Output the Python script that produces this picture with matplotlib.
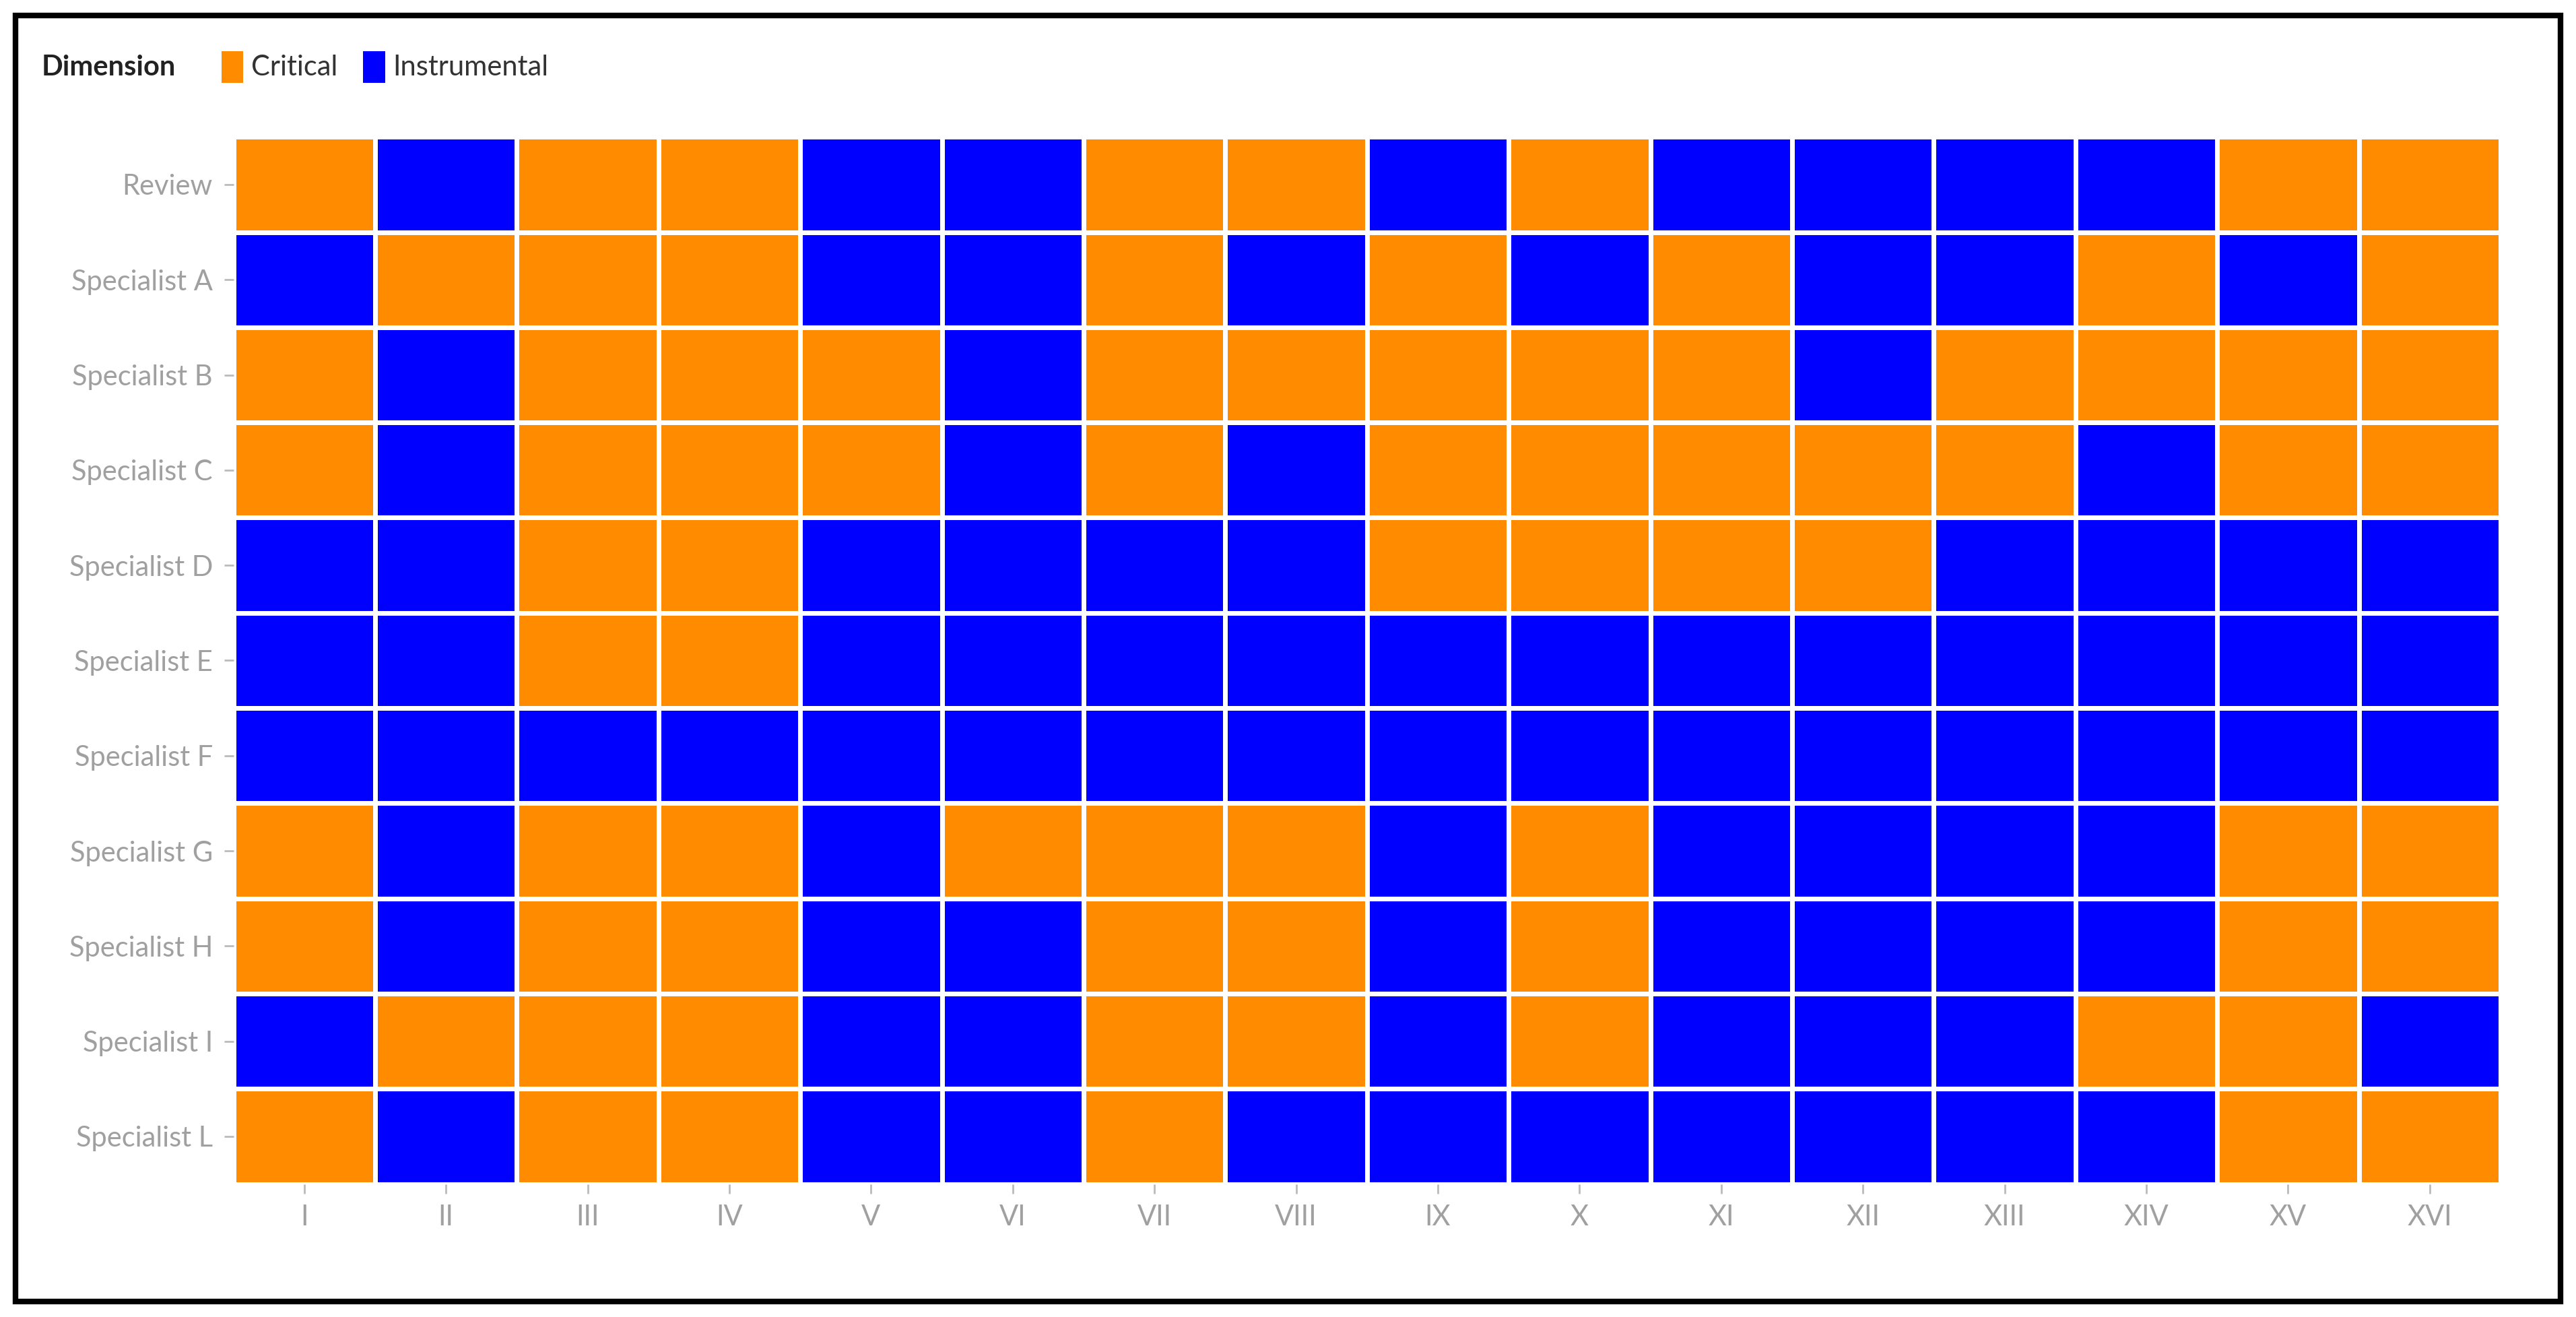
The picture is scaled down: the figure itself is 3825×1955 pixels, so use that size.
import numpy as np
import matplotlib.pyplot as plt
from matplotlib.colors import ListedColormap
from matplotlib.patches import Rectangle

plt.rcParams['font.family'] = ['Lato', 'DejaVu Sans']

columns = ['I', 'II', 'III', 'IV', 'V', 'VI', 'VII', 'VIII', 'IX', 'X',
           'XI', 'XII', 'XIII', 'XIV', 'XV', 'XVI']
rows = ['Review', 'Specialist A', 'Specialist B', 'Specialist C', 'Specialist D',
        'Specialist E', 'Specialist F', 'Specialist G', 'Specialist H',
        'Specialist I', 'Specialist L']
# C = Critical, I = Instrumental
grid = [
    "CICCIICCICIIIICC",
    "ICCCIICICICIICIC",
    "CICCCICCCCCICCCC",
    "CICCCICICCCCCICC",
    "IICCIIIICCCCIIII",
    "IICCIIIIIIIIIIII",
    "IIIIIIIIIIIIIIII",
    "CICCICCCICIIIICC",
    "CICCIICCICIIIICC",
    "ICCCIICCICIIICCI",
    "CICCIICIIIIIIICC",
]

orange = '#FF8C00'
blue = '#0000FF'
values = np.array([[0 if ch == 'C' else 1 for ch in r] for r in grid])

fig = plt.figure(figsize=(38.25, 19.55), dpi=100)
ax = fig.add_axes([0.0906, 0.101, 0.8801, 0.795])
ax.pcolormesh(values, cmap=ListedColormap([orange, blue]), vmin=0, vmax=1,
              edgecolor='white', linewidth=5)
ax.set_xlim(0, len(columns))
ax.set_ylim(len(rows), 0)
ax.set_xticks(np.arange(len(columns)) + 0.5)
ax.set_xticklabels(columns)
ax.set_yticks(np.arange(len(rows)) + 0.5)
ax.set_yticklabels(rows)
ax.tick_params(colors='#BBBBBB', labelcolor='#A0A0A0', labelsize=30,
               length=10, width=2, pad=12)
for s in ax.spines.values():
    s.set_visible(False)

# legend
fig.text(0.016, 0.949, 'Dimension', fontsize=30, fontweight='bold',
         color='#222222', va='center')
for x, label, col in [(0.086, 'Critical', orange), (0.141, 'Instrumental', blue)]:
    fig.patches.append(Rectangle((x, 0.937), 0.0085, 0.024, transform=fig.transFigure,
                                 facecolor=col, edgecolor='none'))
    fig.text(x + 0.0115, 0.949, label, fontsize=30, color='#333333', va='center')

# outer frame
fig.patches.append(Rectangle((0.006, 0.012), 0.988, 0.976, transform=fig.transFigure,
                             fill=False, edgecolor='black', linewidth=6))

fig.savefig('out.png', dpi=100)
